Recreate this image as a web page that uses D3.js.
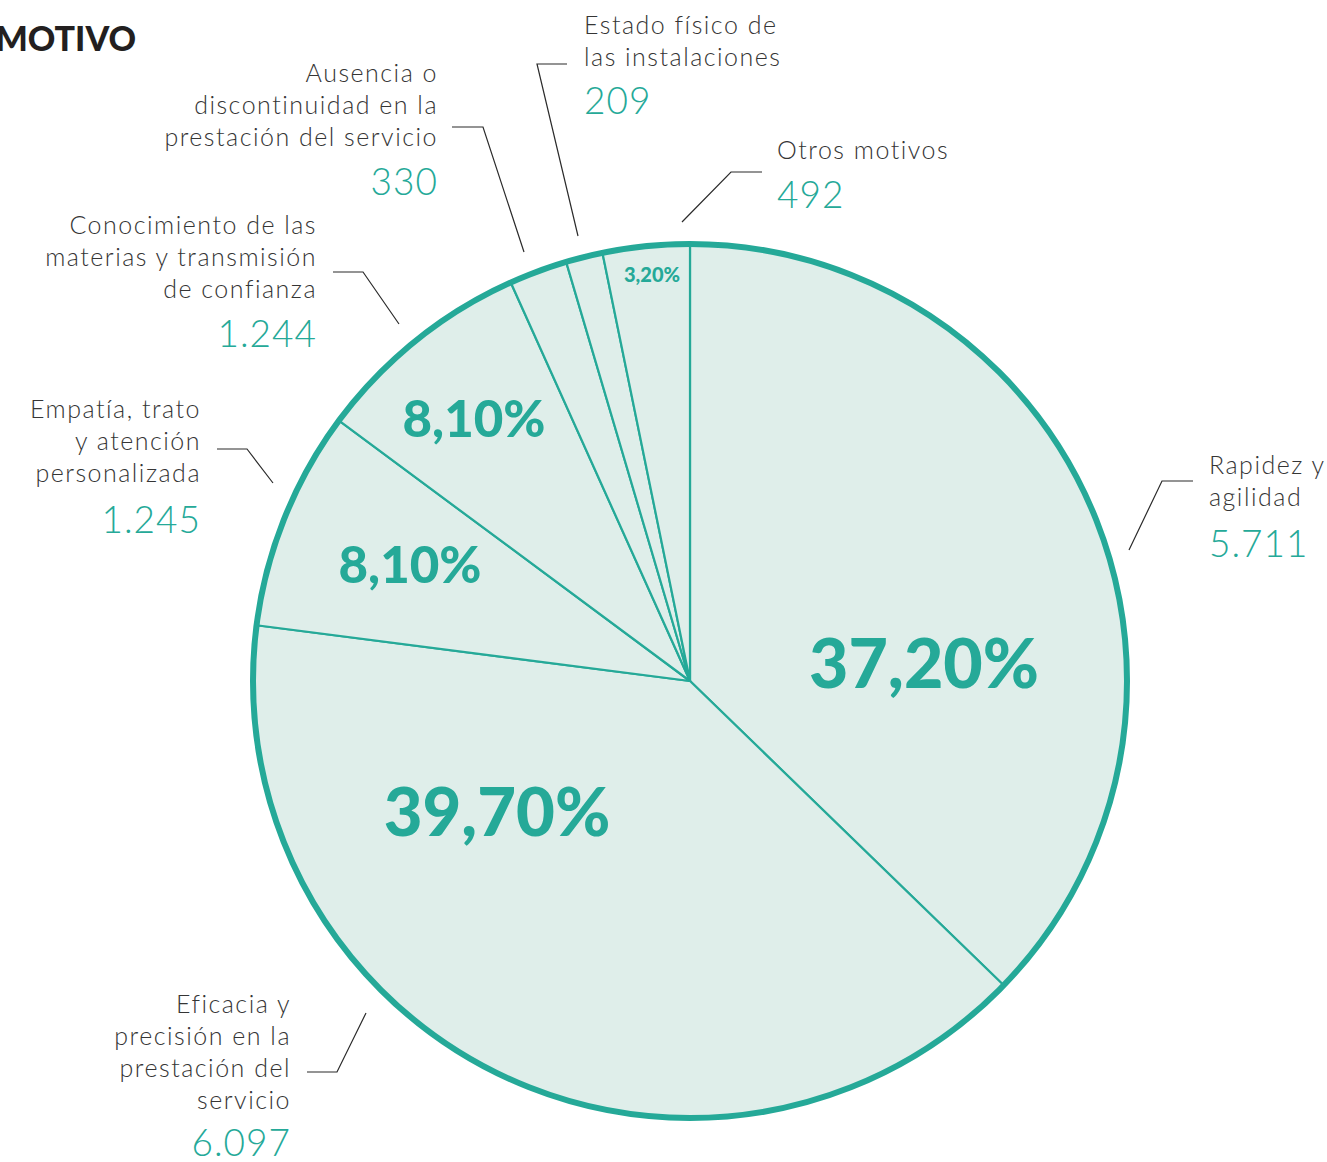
<!DOCTYPE html>
<html>
<head>
<meta charset="utf-8">
<script src="https://cdn.jsdelivr.net/npm/d3@7"></script>
<style>
  html, body { margin: 0; padding: 0; background: #ffffff; }
  svg { display: block; }
</style>
</head>
<body>
<svg id="chart" width="1327" height="1162"></svg>
<script>
// ---- data ----
const categories = [
  "Rapidez y agilidad",
  "Eficacia y precisión en la prestación del servicio",
  "Empatía, trato y atención personalizada",
  "Conocimiento de las materias y transmisión de confianza",
  "Ausencia o discontinuidad en la prestación del servicio",
  "Estado físico de las instalaciones",
  "Otros motivos"
];
const values = [5711, 6097, 1245, 1244, 330, 209, 492];
const pctLabels = ["37,20%", "39,70%", "8,10%", "8,10%", "", "", "3,20%"];
const labelLines = [
  ["Rapidez y", "agilidad"],
  ["Eficacia y", "precisión en la", "prestación del", "servicio"],
  ["Empatía, trato", "y atención", "personalizada"],
  ["Conocimiento de las", "materias y transmisión", "de confianza"],
  ["Ausencia o", "discontinuidad en la", "prestación del servicio"],
  ["Estado físico de", "las instalaciones"],
  ["Otros motivos"]
];
const title = "MOTIVO";

// ---- layout (annotation placement) ----
const layout = {
  cx: 690, cy: 681, r: 437,
  teal: "#25a998", fill: "#dfeeea", ink: "#353535",
  lineH: 32, textSize: 25, numSize: 37
};
// label anchor: x, first baseline, anchor, number baseline
const labelPos = [
  {x: 1209, y: 474, anchor: "start", ny: 557},
  {x: 291, y: 1013, anchor: "end", ny: 1156},
  {x: 201, y: 418, anchor: "end", ny: 533},
  {x: 317, y: 234, anchor: "end", ny: 347},
  {x: 438, y: 82, anchor: "end", ny: 195},
  {x: 584, y: 34, anchor: "start", ny: 114},
  {x: 777, y: 159, anchor: "start", ny: 208}
];
const leaders = [
  [[1129, 550], [1162, 481], [1193, 481]],
  [[366, 1013], [337, 1072], [307, 1072]],
  [[273, 483], [247, 449], [217, 449]],
  [[399, 324], [363, 272], [333, 272]],
  [[524, 252], [483, 127], [452, 127]],
  [[578, 236], [537, 64], [567, 64]],
  [[682, 222], [731, 172], [762, 172]]
];
// percent label centers (x, baseline) and font sizes
const pctPos = [
  {x: 924, y: 688, size: 68},
  {x: 497, y: 836, size: 67},
  {x: 474, y: 437, size: 51},
  {x: 410, y: 583, size: 51},
  null, null,
  {x: 652, y: 282, size: 20}
];

const svg = d3.select("#chart");
const font = "Lato, 'Open Sans', sans-serif";
const fmt = d3.formatLocale({decimal: ",", thousands: ".", grouping: [3], currency: ["", "€"]}).format(",d");

const pie = d3.pie().sort(null).value(d => d).startAngle(0).endAngle(2 * Math.PI);
const arcs = pie(values);
const arc = d3.arc().innerRadius(0).outerRadius(layout.r);

const g = svg.append("g").attr("transform", `translate(${layout.cx},${layout.cy})`);
g.selectAll("path.slice")
  .data(arcs)
  .join("path")
  .attr("class", "slice")
  .attr("d", arc)
  .attr("fill", layout.fill)
  .attr("stroke", layout.teal)
  .attr("stroke-width", 2.2)
  .attr("stroke-linejoin", "round");

g.append("circle")
  .attr("r", layout.r)
  .attr("fill", "none")
  .attr("stroke", layout.teal)
  .attr("stroke-width", 6);

// percent labels
svg.selectAll("text.pct")
  .data(arcs.map((a, i) => ({a, i})).filter(d => pctPos[d.i]))
  .join("text")
  .attr("class", "pct")
  .attr("x", d => pctPos[d.i].x)
  .attr("y", d => pctPos[d.i].y)
  .attr("text-anchor", "middle")
  .attr("font-family", font)
  .attr("font-weight", 900)
  .attr("font-size", d => pctPos[d.i].size)
  .attr("fill", layout.teal)
  .text(d => pctLabels[d.i]);

// leader lines
const line = d3.line();
svg.selectAll("path.leader")
  .data(leaders)
  .join("path")
  .attr("class", "leader")
  .attr("d", line)
  .attr("fill", "none")
  .attr("stroke", "#2b2b2b")
  .attr("stroke-width", 1.2);

// category labels
categories.forEach((c, i) => {
  const p = labelPos[i];
  const t = svg.append("text")
    .attr("text-anchor", p.anchor)
    .attr("font-family", font)
    .attr("font-weight", 300)
    .attr("font-size", layout.textSize)
    .attr("letter-spacing", 1.5)
    .attr("fill", layout.ink);
  labelLines[i].forEach((ln, j) => {
    t.append("tspan").attr("x", p.x).attr("y", p.y + j * layout.lineH).text(ln);
  });
  svg.append("text")
    .attr("x", p.x)
    .attr("y", p.ny)
    .attr("text-anchor", p.anchor)
    .attr("font-family", font)
    .attr("font-weight", 300)
    .attr("font-size", layout.numSize)
    .attr("letter-spacing", 1)
    .attr("fill", layout.teal)
    .text(fmt(values[i]));
});

// title
svg.append("text")
  .attr("x", 136)
  .attr("y", 51)
  .attr("text-anchor", "end")
  .attr("font-family", font)
  .attr("font-weight", 900)
  .attr("font-size", 34)
  .attr("fill", "#231f20")
  .text(title);
</script>
</body>
</html>
